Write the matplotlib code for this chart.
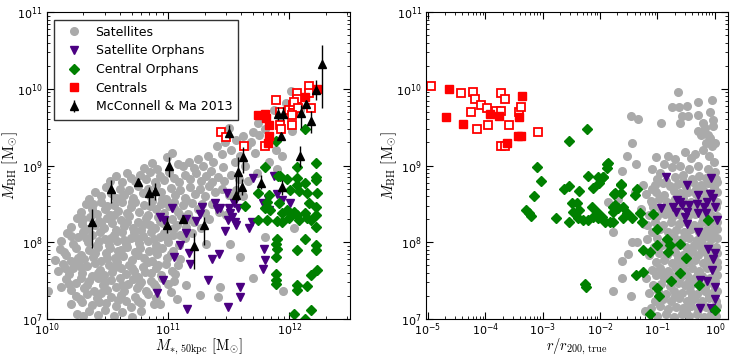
import numpy as np
import matplotlib
matplotlib.use("Agg")
import matplotlib.pyplot as plt

plt.rcParams['mathtext.fontset'] = 'cm'
plt.rcParams['font.family'] = ['DejaVu Sans']

# ---- data (log10 values) ----
# left panel: log10 M*,50kpc  vs  log10 M_BH
sat_left = [
    (10.80, 8.97), (10.87, 9.03), (10.91, 8.95), (10.99, 9.11), (11.03, 9.16), (11.08, 9.02), (11.12, 8.99),
    (11.17, 9.05), (11.21, 8.97), (11.25, 9.08), (11.29, 9.00), (11.33, 9.12), (11.37, 9.05), (11.40, 9.25),
    (11.44, 9.15), (11.47, 9.31), (11.50, 9.49), (11.52, 9.20), (11.56, 9.33), (11.59, 9.12), (11.62, 9.38),
    (11.65, 9.26), (11.68, 9.31), (11.70, 9.44), (11.74, 9.56), (11.75, 9.40), (11.78, 9.62), (11.80, 9.48),
    (11.84, 9.33), (11.87, 9.73), (11.89, 9.20), (11.94, 9.12), (11.92, 9.58), (11.97, 9.82), (12.01, 9.97),
    (12.06, 9.90), (12.09, 9.72), (12.02, 9.45), (11.55, 9.05), (11.35, 8.93), (11.63, 9.00), (11.72, 9.16),
    (11.83, 9.05), (11.90, 8.95), (11.45, 8.98),
    (10.52, 8.80), (10.57, 8.86), (10.62, 8.78), (10.66, 8.90), (10.69, 8.84), (10.73, 8.80), (10.77, 8.88),
    (10.82, 8.83), (10.85, 8.92), (10.89, 8.79), (10.93, 8.86), (10.97, 8.81), (11.01, 8.91), (11.05, 8.84),
    (11.09, 8.78), (11.14, 8.88), (11.18, 8.82), (11.23, 8.90), (11.27, 8.80), (11.31, 8.86), (11.36, 8.79),
    (11.41, 8.85), (11.46, 8.80), (11.52, 8.88), (11.58, 8.83), (11.66, 8.80), (11.73, 8.90),
    (10.35, 8.57), (10.40, 8.66), (10.45, 8.60), (10.49, 8.72), (10.53, 8.64), (10.57, 8.58), (10.60, 8.70),
    (10.64, 8.62), (10.68, 8.68), (10.71, 8.58), (10.75, 8.73), (10.79, 8.64), (10.83, 8.70), (10.86, 8.59),
    (10.90, 8.74), (10.94, 8.65), (10.98, 8.57), (11.02, 8.71), (11.06, 8.62), (11.10, 8.68), (11.14, 8.58),
    (11.18, 8.72), (11.22, 8.63), (11.26, 8.69), (11.30, 8.60), (11.34, 8.73), (11.39, 8.65), (11.44, 8.70),
    (11.50, 8.62), (11.56, 8.68), (11.62, 8.60),
    (10.28, 8.40), (10.32, 8.50), (10.37, 8.44), (10.41, 8.37), (10.45, 8.52), (10.48, 8.43), (10.52, 8.36),
    (10.55, 8.49), (10.59, 8.41), (10.62, 8.53), (10.66, 8.38), (10.69, 8.46), (10.73, 8.52), (10.76, 8.40),
    (10.80, 8.48), (10.83, 8.36), (10.87, 8.54), (10.90, 8.43), (10.94, 8.50), (10.97, 8.38), (11.01, 8.47),
    (11.05, 8.53), (11.08, 8.40), (11.12, 8.48), (11.16, 8.37), (11.20, 8.51), (11.25, 8.44), (11.30, 8.38),
    (11.36, 8.50), (11.42, 8.40), (11.48, 8.36),
    (10.20, 8.20), (10.25, 8.31), (10.29, 8.24), (10.33, 8.17), (10.36, 8.33), (10.40, 8.22), (10.43, 8.28),
    (10.47, 8.18), (10.50, 8.32), (10.54, 8.25), (10.57, 8.16), (10.61, 8.29), (10.64, 8.21), (10.68, 8.34),
    (10.71, 8.19), (10.75, 8.27), (10.78, 8.16), (10.82, 8.31), (10.85, 8.23), (10.89, 8.18), (10.92, 8.33),
    (10.96, 8.25), (10.99, 8.17), (11.03, 8.30), (11.07, 8.22), (11.11, 8.34), (11.15, 8.20), (11.21, 8.27),
    (11.27, 8.18), (11.34, 8.30),
    (10.12, 8.02), (10.17, 8.12), (10.22, 7.98), (10.26, 8.07), (10.30, 8.14), (10.34, 8.00), (10.37, 8.09),
    (10.41, 7.96), (10.44, 8.13), (10.48, 8.04), (10.51, 7.97), (10.55, 8.10), (10.58, 8.01), (10.62, 8.14),
    (10.65, 7.98), (10.69, 8.06), (10.72, 8.13), (10.76, 7.99), (10.79, 8.08), (10.83, 8.02), (10.86, 8.14),
    (10.90, 7.96), (10.93, 8.07), (10.97, 8.12), (11.00, 8.00), (11.04, 8.09), (11.09, 7.97), (11.14, 8.05),
    (11.20, 8.12), (11.31, 7.98), (11.51, 7.98), (11.80, 8.07), (12.04, 8.18),
    (10.07, 7.77), (10.11, 7.91), (10.16, 7.83), (10.20, 7.76), (10.24, 7.92), (10.28, 7.84), (10.31, 7.78),
    (10.35, 7.90), (10.38, 7.81), (10.42, 7.94), (10.45, 7.76), (10.49, 7.86), (10.52, 7.93), (10.56, 7.79),
    (10.59, 7.88), (10.63, 7.82), (10.66, 7.94), (10.70, 7.77), (10.73, 7.87), (10.77, 7.92), (10.80, 7.80),
    (10.84, 7.89), (10.87, 7.76), (10.91, 7.85), (10.95, 7.93), (10.99, 7.80), (11.04, 7.88), (11.10, 7.78),
    (11.59, 7.81),
    (10.09, 7.62), (10.13, 7.72), (10.18, 7.58), (10.22, 7.67), (10.26, 7.74), (10.29, 7.60), (10.33, 7.69),
    (10.37, 7.56), (10.40, 7.73), (10.44, 7.64), (10.47, 7.57), (10.51, 7.70), (10.54, 7.61), (10.58, 7.74),
    (10.61, 7.66), (10.65, 7.58), (10.68, 7.71), (10.72, 7.62), (10.75, 7.55), (10.79, 7.68), (10.83, 7.74),
    (10.86, 7.60), (10.90, 7.67), (10.94, 7.57), (10.98, 7.72), (11.03, 7.63), (11.08, 7.70), (11.70, 7.53),
    (10.01, 7.37), (10.12, 7.42), (10.16, 7.52), (10.20, 7.38), (10.24, 7.47), (10.28, 7.54), (10.31, 7.40),
    (10.35, 7.49), (10.39, 7.36), (10.42, 7.53), (10.46, 7.44), (10.50, 7.38), (10.53, 7.51), (10.57, 7.42),
    (10.60, 7.54), (10.64, 7.37), (10.67, 7.46), (10.71, 7.52), (10.74, 7.40), (10.78, 7.48), (10.82, 7.36),
    (10.86, 7.50), (10.90, 7.42), (10.95, 7.53), (11.00, 7.45), (11.15, 7.44), (11.43, 7.42), (11.95, 7.37),
    (10.20, 7.20), (10.24, 7.30), (10.29, 7.22), (10.33, 7.33), (10.37, 7.18), (10.41, 7.27), (10.45, 7.34),
    (10.49, 7.21), (10.53, 7.29), (10.57, 7.17), (10.61, 7.31), (10.65, 7.24), (10.69, 7.16), (10.73, 7.28),
    (10.78, 7.21), (10.83, 7.32), (10.88, 7.19), (10.93, 7.20), (11.02, 7.35), (11.07, 7.26), (11.26, 7.31),
    (11.41, 7.29),
    (10.25, 7.06), (10.30, 7.04), (10.35, 7.11), (10.42, 7.05), (10.48, 7.12), (10.55, 7.04), (10.62, 7.09),
    (10.70, 7.03), (10.78, 7.10),
    (10.38, 8.50), (10.50, 8.47), (10.60, 8.58), (10.70, 8.52), (10.85, 8.47), (10.95, 8.56), (11.05, 8.45),
    (11.15, 8.55), (11.28, 8.50),
    (10.30, 8.30), (10.45, 8.25), (10.55, 8.35), (10.66, 8.27), (10.80, 8.24), (10.93, 8.28), (11.05, 8.18),
    (11.18, 8.30),
    (10.20, 8.08), (10.32, 8.05), (10.43, 8.01), (10.53, 8.06), (10.64, 8.03), (10.74, 8.05), (10.88, 8.04),
    (10.99, 8.05), (11.10, 8.10),
    (10.14, 7.87), (10.26, 7.80), (10.40, 7.86), (10.50, 7.80), (10.61, 7.90), (10.75, 7.84), (10.89, 7.90),
    (11.02, 7.85),
    (10.15, 7.66), (10.28, 7.68), (10.42, 7.60), (10.56, 7.68), (10.70, 7.66), (10.81, 7.61), (10.92, 7.70),
    (11.06, 7.58),
    (10.18, 7.45), (10.33, 7.44), (10.48, 7.48), (10.62, 7.44), (10.76, 7.44), (10.88, 7.46), (11.05, 7.50),
    (10.27, 7.26), (10.43, 7.22), (10.59, 7.25), (10.75, 7.24), (10.90, 7.27),
]

sat_orph_left = [
    (11.036, 8.441), (10.934, 8.323), (10.969, 8.288), (11.149, 8.297), (11.149, 8.122), (11.099, 7.961),
    (11.050, 7.808), (11.182, 7.712), (11.176, 7.865), (10.961, 7.512), (10.907, 7.337), (11.155, 7.133),
    (11.231, 8.278), (11.264, 8.366), (11.279, 8.461), (11.361, 7.787), (11.416, 7.852), (11.325, 7.512),
    (11.471, 8.144), (11.493, 7.154), (11.589, 7.416), (11.589, 7.285), (11.388, 8.514), (11.430, 8.441),
    (11.402, 8.427), (11.485, 8.637), (11.498, 8.441), (11.512, 8.375), (11.526, 8.331), (11.490, 8.288),
    (11.554, 8.265), (11.562, 8.222), (11.540, 8.506), (11.573, 8.441), (11.669, 8.187), (11.692, 8.265),
    (11.788, 7.918), (11.796, 7.774), (11.779, 7.656), (11.783, 8.506), (11.821, 8.558), (11.870, 8.863),
    (11.898, 8.624), (12.008, 8.514), (11.940, 8.549), (11.829, 8.418), (11.697, 8.833),
]

cen_orph_left = [
    (11.887, 9.324), (12.126, 9.473), (11.802, 8.984), (12.064, 8.976), (12.221, 9.029), (11.920, 8.867),
    (12.064, 8.841), (12.221, 8.854), (11.636, 8.471), (11.738, 8.637), (11.829, 8.614), (11.903, 8.863),
    (11.981, 8.820), (12.002, 8.680), (12.064, 8.745), (12.077, 8.671), (12.132, 8.767), (12.146, 8.637),
    (12.221, 8.810), (12.229, 8.637), (11.816, 8.527), (11.802, 8.441), (11.843, 8.418), (11.816, 8.288),
    (11.738, 8.288), (11.912, 8.506), (11.940, 8.375), (11.981, 8.418), (12.008, 8.375), (12.036, 8.396),
    (12.064, 8.353), (11.994, 8.310), (12.077, 8.288), (12.132, 8.375), (12.146, 8.310), (12.174, 8.288),
    (12.221, 8.461), (12.221, 8.353), (12.221, 8.200), (11.898, 8.278), (11.940, 8.265), (12.160, 8.506),
    (11.898, 8.048), (11.893, 7.983), (11.898, 7.918), (11.893, 7.808), (12.126, 8.039), (12.064, 7.895),
    (12.221, 7.961), (12.215, 7.895), (12.223, 7.634), (12.174, 7.569), (11.893, 7.591), (11.893, 7.503),
    (11.893, 7.460), (12.064, 7.438), (12.064, 7.373), (12.146, 7.425), (12.174, 7.111), (12.036, 7.068),
    (12.126, 7.003),
]

cen_open_left = [
    (11.438, 9.438), (11.479, 9.373), (11.628, 9.255), (11.893, 9.856), (11.926, 9.699), (11.926, 9.529),
    (11.934, 9.477), (11.802, 9.255), (12.000, 9.725), (12.025, 9.791), (12.017, 9.529), (12.033, 9.686),
    (12.066, 9.948), (12.066, 9.869), (12.041, 9.830), (12.074, 9.752), (12.165, 10.039), (12.157, 9.948),
    (12.174, 9.752), (12.017, 9.660),
]
cen_fill_left = [
    (11.744, 9.660), (11.802, 9.673), (11.810, 9.621), (11.835, 9.529), (11.835, 9.386), (11.826, 9.294),
    (12.124, 9.895), (12.223, 10.000),
]

# McConnell & Ma 2013: log M*, log MBH, lower, upper
mm13 = [
    (10.374, 8.258, 7.931, 8.427), (10.531, 8.689, 8.514, 8.810), (10.750, 8.780, 8.740, 8.820),
    (10.840, 8.637, 8.484, 8.723), (10.890, 8.667, 8.550, 8.770), (11.008, 8.997, 8.854, 9.115),
    (10.989, 8.231, 8.118, 8.330), (11.121, 8.297, 8.270, 8.330), (11.217, 7.948, 7.656, 8.118),
    (11.298, 8.231, 7.961, 8.331), (11.502, 9.429, 9.360, 9.530), (11.556, 8.614, 8.510, 8.880),
    (11.573, 8.920, 8.550, 9.115), (11.614, 9.115, 8.900, 9.246), (11.612, 8.715, 8.615, 8.820),
    (11.769, 8.775, 8.690, 8.880), (11.903, 9.669, 9.595, 9.765), (11.950, 9.669, 9.595, 9.765),
    (11.934, 9.386, 9.350, 9.420), (11.940, 8.723, 8.610, 8.810), (12.085, 9.124, 8.980, 9.260),
    (12.091, 9.682, 9.490, 9.790), (12.138, 9.800, 9.770, 9.830), (12.179, 9.582, 9.425, 9.710),
    (12.215, 9.987, 9.856, 10.118), (12.267, 10.327, 9.752, 10.575),
]

# right panel: log10 r/r200,true  vs  log10 M_BH
sat_right = [
    (-1.46, 9.65), (-1.34, 9.61), (-0.94, 9.56), (-0.64, 9.96), (-0.75, 9.76), (-0.62, 9.76), (-0.48, 9.77),
    (-0.58, 9.65), (-0.60, 9.55), (-0.47, 9.65), (-0.30, 9.83), (-0.30, 9.66), (-0.05, 9.86), (-0.04, 9.51),
    (-0.17, 9.49), (-0.29, 9.45), (-0.25, 9.40), (-0.08, 9.36), (0.00, 9.30), (-0.15, 9.30), (-1.45, 9.30),
    (-1.53, 9.12), (-1.37, 9.02), (-1.61, 8.93), (-1.03, 9.11), (-0.89, 9.02), (-0.81, 9.12), (-0.70, 9.08),
    (-0.52, 9.18), (-0.42, 9.10), (-0.35, 9.15), (-0.20, 9.20), (-0.10, 9.12), (-0.02, 9.05), (-0.60, 9.00),
    (-0.75, 8.98), (-0.30, 9.00), (-0.45, 8.95), (-1.10, 8.95), (-0.95, 8.90), (-0.05, 9.25), (-0.12, 9.40),
    (-0.03, 9.60), (-0.09, 9.70), (-0.20, 9.55),
    (-1.87, 8.53), (-1.68, 8.57), (-1.78, 8.13), (-1.61, 7.53), (-1.78, 7.36), (-1.46, 7.30), (-1.51, 7.85),
    (-1.45, 8.00), (-1.36, 8.00), (-1.19, 8.22), (-1.10, 8.51), (-1.55, 8.35), (-1.22, 7.11), (-1.40, 8.65),
    (-1.10, 8.70), (-1.25, 8.75), (-1.62, 7.76),
    (-0.70, 8.85), (-0.55, 8.88), (-0.40, 8.83), (-0.28, 8.86), (-0.16, 8.84), (-0.05, 8.87), (0.02, 8.82),
    (-0.85, 8.80), (-1.00, 8.83),
    (-1.05, 8.74), (-0.90, 8.77), (-0.78, 8.73), (-0.65, 8.76), (-0.50, 8.72), (-0.38, 8.78), (-0.25, 8.74),
    (-0.12, 8.77), (-0.02, 8.72), (0.04, 8.78),
    (-1.20, 8.63), (-1.02, 8.66), (-0.88, 8.62), (-0.72, 8.67), (-0.60, 8.64), (-0.46, 8.66), (-0.33, 8.63),
    (-0.20, 8.68), (-0.08, 8.64), (0.03, 8.66),
    (-1.12, 8.54), (-0.98, 8.57), (-0.84, 8.53), (-0.70, 8.56), (-0.55, 8.58), (-0.42, 8.53), (-0.28, 8.56),
    (-0.15, 8.54), (-0.04, 8.57), (0.04, 8.52),
    (-1.28, 8.44), (-1.08, 8.46), (-0.93, 8.43), (-0.80, 8.47), (-0.66, 8.44), (-0.52, 8.46), (-0.38, 8.43),
    (-0.24, 8.47), (-0.10, 8.44), (0.02, 8.46),
    (-1.00, 8.34), (-0.87, 8.37), (-0.74, 8.33), (-0.60, 8.36), (-0.47, 8.34), (-0.34, 8.37), (-0.20, 8.33),
    (-0.07, 8.36), (0.04, 8.34), (-1.15, 8.36),
    (-1.24, 8.24), (-1.05, 8.26), (-0.90, 8.23), (-0.77, 8.27), (-0.63, 8.24), (-0.50, 8.26), (-0.36, 8.23),
    (-0.23, 8.27), (-0.10, 8.24), (0.03, 8.26),
    (-1.10, 8.14), (-0.95, 8.17), (-0.82, 8.13), (-0.68, 8.16), (-0.54, 8.14), (-0.41, 8.17), (-0.28, 8.13),
    (-0.15, 8.16), (-0.03, 8.14), (0.04, 8.17),
    (-1.18, 8.04), (-1.00, 8.06), (-0.86, 8.03), (-0.72, 8.07), (-0.58, 8.04), (-0.45, 8.06), (-0.32, 8.03),
    (-0.19, 8.07), (-0.06, 8.04), (0.03, 8.06),
    (-1.06, 7.94), (-0.92, 7.97), (-0.78, 7.93), (-0.64, 7.96), (-0.50, 7.94), (-0.37, 7.97), (-0.24, 7.93),
    (-0.11, 7.96), (0.02, 7.94),
    (-1.14, 7.84), (-0.98, 7.86), (-0.84, 7.83), (-0.70, 7.87), (-0.56, 7.84), (-0.43, 7.86), (-0.30, 7.83),
    (-0.17, 7.87), (-0.05, 7.84), (0.04, 7.86),
    (-1.02, 7.74), (-0.88, 7.77), (-0.74, 7.73), (-0.60, 7.76), (-0.47, 7.74), (-0.34, 7.77), (-0.21, 7.73),
    (-0.09, 7.76), (0.03, 7.74),
    (-1.10, 7.64), (-0.95, 7.66), (-0.81, 7.63), (-0.67, 7.67), (-0.53, 7.64), (-0.40, 7.66), (-0.27, 7.63),
    (-0.14, 7.67), (-0.02, 7.64), (0.04, 7.68),
    (-1.20, 7.54), (-1.03, 7.57), (-0.89, 7.53), (-0.75, 7.56), (-0.61, 7.54), (-0.48, 7.57), (-0.35, 7.53),
    (-0.22, 7.56), (-0.09, 7.54), (0.03, 7.57),
    (-1.08, 7.44), (-0.93, 7.46), (-0.79, 7.43), (-0.65, 7.47), (-0.52, 7.44), (-0.39, 7.46), (-0.26, 7.43),
    (-0.13, 7.47), (-0.01, 7.44),
    (-1.15, 7.34), (-0.99, 7.37), (-0.85, 7.33), (-0.71, 7.36), (-0.57, 7.34), (-0.44, 7.37), (-0.31, 7.33),
    (-0.18, 7.36), (-0.05, 7.34), (0.04, 7.37),
    (-1.05, 7.24), (-0.90, 7.26), (-0.76, 7.23), (-0.62, 7.27), (-0.49, 7.24), (-0.36, 7.26), (-0.23, 7.23),
    (-0.10, 7.27), (0.02, 7.24),
    (-1.12, 7.14), (-0.96, 7.17), (-0.82, 7.13), (-0.68, 7.16), (-0.55, 7.14), (-0.42, 7.17), (-0.29, 7.13),
    (-0.16, 7.16), (-0.04, 7.14), (0.03, 7.17),
    (-1.00, 7.04), (-0.86, 7.06), (-0.72, 7.03), (-0.58, 7.07), (-0.45, 7.04), (-0.32, 7.06), (-0.19, 7.03),
    (-0.06, 7.06), (0.02, 7.04),
    (-0.12, 8.95), (0.01, 8.92), (-0.08, 8.50), (-0.01, 8.30), (-0.13, 8.10), (0.00, 7.90), (-0.07, 7.70),
    (0.01, 7.50), (-0.11, 7.30), (0.00, 7.10),
    (-0.55, 8.80), (-0.33, 8.70), (-0.15, 8.60), (-0.45, 8.50), (-0.20, 8.40), (-0.55, 8.30), (-0.30, 8.20),
    (-0.08, 8.20), (-0.50, 8.10), (-0.25, 8.00), (-0.40, 7.90), (-0.12, 7.80), (-0.55, 7.70), (-0.30, 7.60),
    (-0.45, 7.50), (-0.18, 7.40), (-0.40, 7.30), (-0.25, 7.20), (-0.50, 7.10), (-0.12, 7.00), (-0.80, 8.40),
    (-0.75, 8.00), (-0.90, 7.60), (-0.70, 7.30), (-0.95, 8.20), (-0.65, 7.80),
]

sat_orph_right = [
    (-0.857, 8.854), (-0.480, 8.745), (-0.066, 8.833), (-0.944, 8.441), (-0.735, 8.461), (-0.677, 8.396),
    (-0.607, 8.527), (-0.578, 8.484), (-0.520, 8.331), (-0.480, 8.396), (-0.445, 8.484), (-0.298, 8.614),
    (-0.316, 8.497), (-0.288, 8.375), (-0.188, 8.461), (-0.131, 8.527), (-0.084, 8.627), (-0.037, 8.571),
    (0.003, 8.461), (0.033, 8.288), (-0.154, 8.375), (-0.298, 8.135), (-0.113, 7.918), (0.003, 7.861),
    (-0.026, 7.787), (-0.054, 7.643), (-0.258, 7.512), (-0.141, 7.494), (0.003, 7.416), (0.003, 7.264),
    (-0.258, 7.146), (-0.066, 7.146), (-0.665, 8.549), (-0.490, 8.244),
]

cen_orph_right = [
    (-2.236, 9.473), (-2.539, 9.320), (-3.091, 8.976), (-3.033, 8.801), (-3.150, 8.601), (-3.283, 8.418),
    (-3.243, 8.375), (-3.208, 8.344), (-2.771, 8.310), (-2.627, 8.689), (-2.539, 8.732), (-2.370, 8.671),
    (-2.218, 8.863), (-2.131, 8.702), (-2.044, 8.846), (-1.946, 8.846), (-2.021, 8.767), (-1.869, 9.037),
    (-1.887, 8.963), (-2.497, 8.514), (-2.410, 8.506), (-2.469, 8.396), (-2.370, 8.418), (-2.539, 8.265),
    (-2.382, 8.310), (-2.295, 8.288), (-2.208, 8.288), (-2.148, 8.461), (-2.120, 8.331), (-2.061, 8.396),
    (-2.033, 8.310), (-1.974, 8.331), (-1.916, 8.265), (-1.829, 8.265), (-1.771, 8.265), (-1.771, 8.396),
    (-1.742, 8.484), (-1.684, 8.441), (-1.637, 8.745), (-1.754, 8.627), (-2.265, 7.460), (-2.253, 7.416),
    (-1.876, 9.020), (-1.956, 8.854), (-1.642, 8.754), (-1.742, 8.644), (-1.642, 8.644), (-1.363, 8.689),
    (-1.393, 8.610), (-1.771, 8.461), (-1.607, 8.454), (-1.538, 8.375), (-1.597, 8.310), (-1.450, 8.310),
    (-1.305, 8.375), (-1.276, 8.265), (-1.084, 8.366), (-1.003, 8.179), (-0.839, 8.048), (-0.782, 7.961),
    (-0.607, 7.983), (-0.812, 7.873), (-0.503, 7.800), (-1.248, 7.895), (-1.131, 7.873), (-1.014, 7.961),
    (-1.248, 7.612), (-1.375, 7.569), (-0.770, 7.490), (-0.607, 7.599), (-1.003, 7.408), (-0.969, 7.294),
    (-1.131, 7.068), (-0.271, 7.438), (-0.113, 8.288), (0.003, 7.111),
]

cen_open_right = [
    (-4.941, 10.039), (-4.417, 9.944), (-4.215, 9.965), (-4.185, 9.865), (-4.068, 9.791), (-3.970, 9.748),
    (-4.243, 9.699), (-4.145, 9.473), (-3.953, 9.529), (-3.818, 9.716), (-3.719, 9.944), (-3.661, 9.865),
    (-3.719, 9.716), (-3.586, 9.529), (-3.731, 9.255), (-3.661, 9.255), (-3.412, 9.703), (-3.370, 9.761),
    (-3.080, 9.434),
]
cen_fill_right = [
    (-4.634, 10.000), (-4.679, 9.630), (-4.389, 9.539), (-3.923, 9.669), (-3.761, 9.651), (-3.360, 9.900),
    (-3.417, 9.638), (-3.382, 9.386), (-3.429, 9.386), (-3.614, 9.290),
]

GRAY = '#aaaaaa'
PURPLE = '#4b0082'
GREEN = '#008000'
RED = '#ff0000'


def xy(points):
    arr = np.array(points)
    return 10 ** arr[:, 0], 10 ** arr[:, 1]


def style_axes(ax):
    ax.set_xscale('log')
    ax.set_yscale('log')
    ax.set_ylim(1e7, 1e11)
    ax.tick_params(which='both', direction='in', top=True, right=True, labelsize=8, pad=3)
    ax.tick_params(axis='x', pad=2)
    ax.tick_params(which='major', length=5, width=0.8)
    ax.tick_params(which='minor', length=2.5, width=0.6)
    ax.set_ylabel(r'$M_{\rm BH}\ [{\rm M_{\odot}}]$', fontsize=11, labelpad=-2)


fig = plt.figure(figsize=(7.31, 3.56), dpi=100)
ax1 = fig.add_axes([0.064, 0.104, 0.415, 0.862])
ax2 = fig.add_axes([0.583, 0.104, 0.413, 0.862])

# left panel
x, y = xy(sat_left)
ax1.plot(x, y, 'o', color=GRAY, mec=GRAY, ms=5.5, label='Satellites')
x, y = xy(sat_orph_left)
ax1.plot(x, y, 'v', color=PURPLE, mec=PURPLE, ms=5.5, label='Satellite Orphans')
x, y = xy(cen_orph_left)
ax1.plot(x, y, 'D', color=GREEN, mec=GREEN, ms=5, label='Central Orphans')
x, y = xy(cen_open_left)
ax1.plot(x, y, 's', mfc='white', mec=RED, mew=1.3, ms=5.5)
x, y = xy(cen_fill_left)
ax1.plot(x, y, 's', color=RED, mec=RED, ms=5.5, label='Centrals')
mm = np.array(mm13)
mx, my = 10 ** mm[:, 0], 10 ** mm[:, 1]
ylo, yhi = my - 10 ** mm[:, 2], 10 ** mm[:, 3] - my
ax1.errorbar(mx, my, yerr=[ylo, yhi], fmt='^', color='k', ms=5.5, elinewidth=1, capsize=0,
             label='McConnell & Ma 2013')
style_axes(ax1)
ax1.set_xlim(1e10, 10 ** 12.5)
ax1.set_xlabel(r'$M_{*,\,50{\rm kpc}}\ [{\rm M_{\odot}}]$', fontsize=10.5, labelpad=-1)
leg = ax1.legend(loc='upper left', fontsize=9, numpoints=1, fancybox=False, framealpha=1,
                 handlelength=2.2, borderpad=0.5, labelspacing=0.45, handletextpad=0.6,
                 borderaxespad=0.6)
leg.get_frame().set_edgecolor('#333333')

# right panel
x, y = xy(sat_right)
ax2.plot(x, y, 'o', color=GRAY, mec=GRAY, ms=5.5)
x, y = xy(sat_orph_right)
ax2.plot(x, y, 'v', color=PURPLE, mec=PURPLE, ms=5.5)
x, y = xy(cen_orph_right)
ax2.plot(x, y, 'D', color=GREEN, mec=GREEN, ms=5)
x, y = xy(cen_open_right)
ax2.plot(x, y, 's', mfc='white', mec=RED, mew=1.3, ms=5.5)
x, y = xy(cen_fill_right)
ax2.plot(x, y, 's', color=RED, mec=RED, ms=5.5)
style_axes(ax2)
ax2.set_xlim(10 ** -5.03, 10 ** 0.23)
ax2.set_xlabel(r'$r/r_{200,\,{\rm true}}$', fontsize=10.5, labelpad=-1)

fig.savefig('out.png', dpi=100)
